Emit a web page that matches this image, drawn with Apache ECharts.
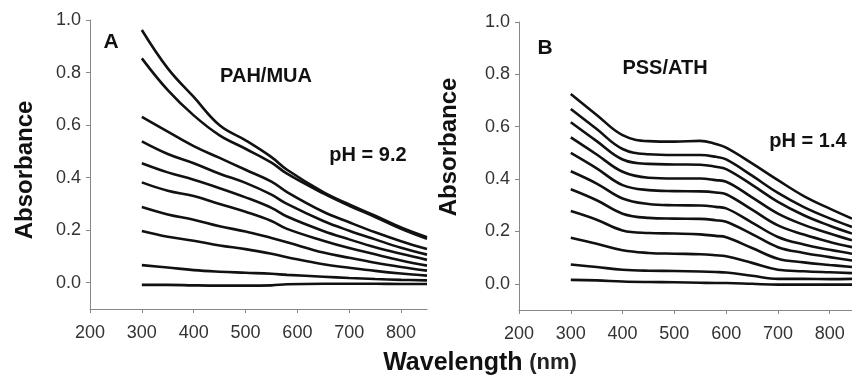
<!DOCTYPE html>
<html>
<head>
<meta charset="utf-8">
<script src="https://cdn.jsdelivr.net/npm/echarts@6/dist/echarts.min.js"></script>
<style>
  html, body { margin: 0; padding: 0; background: #fff; }
  #spectra { width: 852px; height: 375px; }
</style>
</head>
<body>
<div id="spectra"></div>
<script>
// wavelengths (nm) and absorbance curves
var wavelengthA = [300, 350, 400, 450, 500, 550, 580, 650, 700, 750, 800, 850];
var absorbanceA = [
    [0.962, 0.816, 0.707, 0.599, 0.542, 0.478, 0.430, 0.345, 0.298, 0.255, 0.210, 0.173],
    [0.854, 0.733, 0.637, 0.561, 0.510, 0.457, 0.415, 0.340, 0.293, 0.250, 0.205, 0.167],
    [0.631, 0.575, 0.520, 0.475, 0.430, 0.385, 0.345, 0.270, 0.230, 0.192, 0.158, 0.128],
    [0.538, 0.490, 0.455, 0.415, 0.380, 0.335, 0.300, 0.235, 0.198, 0.165, 0.133, 0.107],
    [0.455, 0.420, 0.392, 0.360, 0.325, 0.285, 0.252, 0.197, 0.165, 0.135, 0.110, 0.087],
    [0.382, 0.350, 0.330, 0.300, 0.270, 0.235, 0.205, 0.160, 0.132, 0.108, 0.085, 0.065],
    [0.288, 0.260, 0.240, 0.215, 0.195, 0.170, 0.154, 0.115, 0.095, 0.076, 0.060, 0.046],
    [0.197, 0.175, 0.160, 0.142, 0.128, 0.110, 0.097, 0.070, 0.057, 0.045, 0.035, 0.027],
    [0.067, 0.058, 0.048, 0.042, 0.038, 0.034, 0.030, 0.023, 0.018, 0.014, 0.011, 0.009],
    [-0.008, -0.008, -0.010, -0.011, -0.011, -0.010, -0.006, -0.004, -0.004, -0.004, -0.005, -0.005]
];

var wavelengthB = [300, 350, 400, 450, 500, 550, 580, 600, 650, 700, 750, 800, 843];
var absorbanceB = [
    [0.725, 0.645, 0.568, 0.545, 0.543, 0.546, 0.534, 0.520, 0.460, 0.396, 0.335, 0.287, 0.249],
    [0.668, 0.591, 0.515, 0.495, 0.492, 0.492, 0.485, 0.475, 0.413, 0.347, 0.293, 0.250, 0.217],
    [0.617, 0.545, 0.475, 0.458, 0.456, 0.455, 0.447, 0.438, 0.378, 0.313, 0.262, 0.222, 0.192],
    [0.559, 0.494, 0.428, 0.405, 0.402, 0.402, 0.396, 0.390, 0.330, 0.268, 0.225, 0.192, 0.166],
    [0.500, 0.441, 0.377, 0.358, 0.354, 0.353, 0.349, 0.342, 0.283, 0.223, 0.188, 0.160, 0.140],
    [0.430, 0.383, 0.326, 0.305, 0.300, 0.299, 0.294, 0.288, 0.234, 0.179, 0.150, 0.130, 0.115],
    [0.361, 0.319, 0.268, 0.252, 0.249, 0.248, 0.243, 0.237, 0.190, 0.140, 0.118, 0.102, 0.089],
    [0.278, 0.245, 0.204, 0.194, 0.192, 0.189, 0.183, 0.178, 0.137, 0.096, 0.082, 0.072, 0.064],
    [0.176, 0.153, 0.128, 0.118, 0.115, 0.113, 0.109, 0.105, 0.080, 0.054, 0.048, 0.044, 0.041],
    [0.074, 0.064, 0.054, 0.050, 0.049, 0.047, 0.045, 0.043, 0.031, 0.019, 0.019, 0.018, 0.019],
    [0.015, 0.013, 0.009, 0.007, 0.006, 0.004, 0.003, 0.003, 0.000, -0.003, -0.003, -0.003, -0.003]
];

var xTicks = [200, 300, 400, 500, 600, 700, 800];
var yTicks = [0, 0.2, 0.4, 0.6, 0.8, 1.0];

var font = 'Liberation Sans';

function makeSeries(wl, curves, axisIndex) {
    return curves.map(function (vals) {
        return {
            type: 'line',
            xAxisIndex: axisIndex,
            yAxisIndex: axisIndex,
            data: wl.map(function (w, i) { return [w, vals[i]]; }),
            smooth: 0.4,
            showSymbol: false,
            silent: true,
            lineStyle: { color: '#111', width: 2.6 }
        };
    });
}

function xAxisFor(idx, max) {
    return {
        type: 'value', gridIndex: idx, min: 200, max: max,
        axisLine: { onZero: false, lineStyle: { color: '#888', width: 1 } },
        axisTick: { customValues: xTicks, length: 4, lineStyle: { color: '#888' } },
        axisLabel: { customValues: xTicks, color: '#333', fontFamily: font, fontSize: 18, margin: 15 },
        splitLine: { show: false }
    };
}

function yAxisFor(idx) {
    return {
        type: 'value', gridIndex: idx, min: -0.1, max: 1.0,
        axisLine: { show: true, onZero: false, lineStyle: { color: '#888', width: 1 } },
        axisTick: { show: true, customValues: yTicks, length: 4, lineStyle: { color: '#888' } },
        axisLabel: {
            customValues: yTicks, color: '#333', fontFamily: font, fontSize: 18, margin: 9,
            formatter: function (v) { return v.toFixed(1); }
        },
        splitLine: { show: false }
    };
}

var dom = document.getElementById('spectra');
var myChart = echarts.init(dom);

function label(text, x, y, size) {
    return {
        type: 'text', x: x, y: y,
        style: {
            text: text, fontFamily: font, fontWeight: 'bold', fontSize: size, fill: '#111',
            align: 'center', verticalAlign: 'middle'
        }
    };
}

var option = {
    animation: false,
    backgroundColor: '#fff',
    grid: [
        { left: 90, top: 20, width: 337, height: 289 },
        { left: 519, top: 22, width: 333, height: 288 }
    ],
    xAxis: [xAxisFor(0, 850), xAxisFor(1, 843)],
    yAxis: [yAxisFor(0), yAxisFor(1)],
    series: makeSeries(wavelengthA, absorbanceA, 0).concat(makeSeries(wavelengthB, absorbanceB, 1)),
    graphic: [
        label('A', 111, 42, 21),
        label('PAH/MUA', 266, 76, 20),
        label('pH = 9.2', 368, 155, 20),
        label('B', 545, 48, 21),
        label('PSS/ATH', 665, 68, 20),
        label('pH = 1.4', 808, 141, 20),
        {
            type: 'text', x: 25, y: 170, rotation: Math.PI / 2,
            style: {
                text: 'Absorbance', fontFamily: font, fontWeight: 'bold', fontSize: 24, fill: '#111',
                align: 'center', verticalAlign: 'middle'
            }
        },
        {
            type: 'text', x: 449, y: 147, rotation: Math.PI / 2,
            style: {
                text: 'Absorbance', fontFamily: font, fontWeight: 'bold', fontSize: 24, fill: '#111',
                align: 'center', verticalAlign: 'middle'
            }
        },
        {
            type: 'text', x: 480, y: 363,
            style: {
                text: '{a|Wavelength}  {b|(nm)}', align: 'center', verticalAlign: 'middle',
                rich: {
                    a: { fontFamily: font, fontWeight: 'bold', fontSize: 25, fill: '#111' },
                    b: { fontFamily: font, fontWeight: 'bold', fontSize: 22, fill: '#222' }
                }
            }
        }
    ]
};

if (option && typeof option === 'object') {
    myChart.setOption(option);
}
</script>
</body>
</html>
